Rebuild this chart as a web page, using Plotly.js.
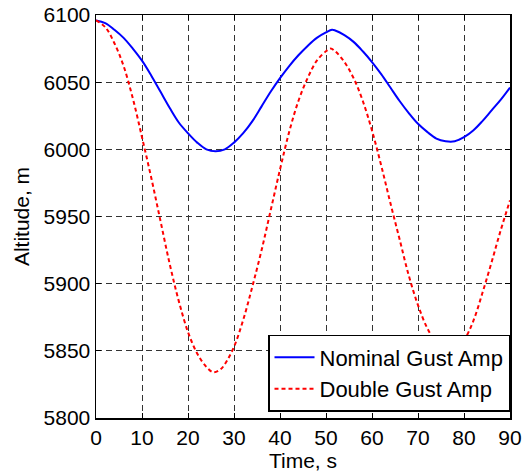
<!DOCTYPE html>
<html>
<head>
<meta charset="utf-8">
<script src="https://cdn.plot.ly/plotly-3.0.1.min.js"></script>
<style>html,body{margin:0;padding:0;background:#fff;}#chart{width:525px;height:473px;}</style>
</head>
<body>
<div id="chart"></div>
<script>
const timeNominal = [0,2,4,6,8,10,12,14,16,18,20,22,24,26,28,30,32,34,36,38,40,42,44,46,48,50,51.3,52,54,56,58,60,62,64,66,68,70,72,74,76,78,80,82,84,86,88,90];
const altNominal = [6096,6094,6089,6083,6075,6066,6055,6043,6031,6020,6012,6005,6000,5998.5,6000,6005,6012,6021,6032,6043,6053,6062,6070,6077,6083,6087,6089,6088.5,6085,6080,6073,6065,6056,6046,6036,6027,6019,6013,6008,6006,6006,6009,6014,6021,6029,6037,6046];
const timeDouble = [0,2,4,6,8,10,12,14,16,18,20,22,24,25.5,27,28,30,32,34,36,38,40,42,44,46,48,50,51,52,54,56,58,60,62,64,66,68,70,72,74,76,77,78,80,82,84,86,88,90];
const altDouble = [6096,6091,6079,6062,6038,6009,5979,5947,5915,5887,5864,5848,5838,5834,5836,5840,5853,5873,5898,5925,5955,5985,6013,6036,6053,6066,6073,6075,6073,6065,6053,6036,6014,5988,5960,5933,5906,5884,5867,5856,5851,5850.5,5851,5858,5872,5893,5916,5940,5962];
const seriesNames = ["Nominal Gust Amp", "Double Gust Amp"];
const xTicks = [0,10,20,30,40,50,60,70,80,90];
const yTicks = [5800,5850,5900,5950,6000,6050,6100];

const font = {family: "Liberation Sans, Arial, sans-serif", size: 21, color: "#000"};
const legendFont = {family: "Liberation Sans, Arial, sans-serif", size: 22, color: "#000"};
const axisCommon = {
  showline: true, linecolor: "#000", linewidth: 1.5, mirror: "ticks",
  ticks: "inside", ticklen: 5, tickwidth: 1, tickcolor: "#000",
  showgrid: true, gridcolor: "#333", gridwidth: 1, griddash: "6px,4px",
  zeroline: false, tickfont: font
};
const traces = [
  {x: timeNominal, y: altNominal, name: seriesNames[0], type: "scatter", mode: "lines",
   line: {color: "#0000ff", width: 2, shape: "spline"}},
  {x: timeDouble, y: altDouble, name: seriesNames[1], type: "scatter", mode: "lines",
   line: {color: "#ff0000", width: 2, dash: "4px,3px", shape: "spline"}}
];
const layout = {
  width: 525, height: 473,
  margin: {l: 96, r: 15, t: 15, b: 55},
  paper_bgcolor: "#fff", plot_bgcolor: "#fff",
  font: font,
  showlegend: true,
  legend: {x: 1, xanchor: "right", y: 0.015, yanchor: "bottom",
    bgcolor: "#fff", bordercolor: "#000", borderwidth: 1.5, font: legendFont,
    tracegroupgap: 0, itemwidth: 40},
  xaxis: Object.assign({}, axisCommon, {range: [0, 90], tickvals: xTicks,
    title: {text: "Time, s", font: font, standoff: 0}}),
  yaxis: Object.assign({}, axisCommon, {range: [5800, 6100], tickvals: yTicks,
    title: {text: "Altitude, m", font: font, standoff: 8}})
};
Plotly.newPlot("chart", traces, layout, {displayModeBar: false, staticPlot: true});
</script>
</body>
</html>
